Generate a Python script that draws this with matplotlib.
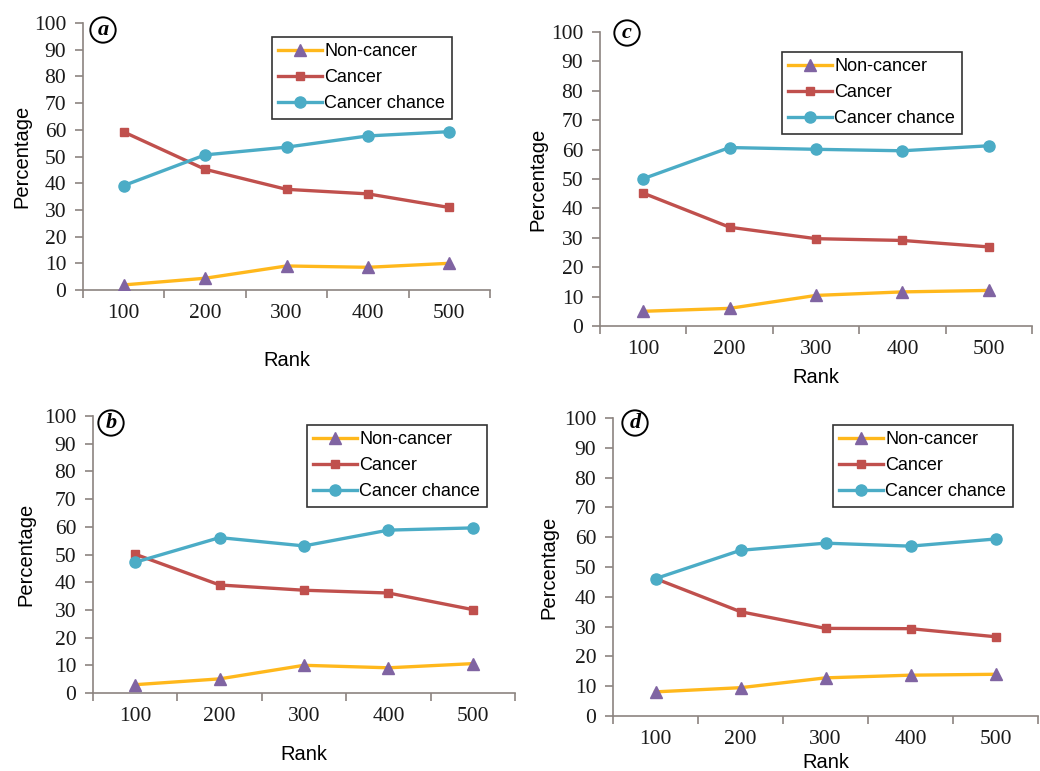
import matplotlib
matplotlib.use("Agg")
import matplotlib.pyplot as plt

W, H = 1040, 771

ranks = ["100", "200", "300", "400", "500"]

# panel values
non_a = [1.9, 4.4, 9.0, 8.5, 10.0]
can_a = [59.2, 45.2, 37.7, 36.0, 30.9]
cha_a = [39.1, 50.6, 53.5, 57.7, 59.3]

non_b = [3.0, 5.1, 10.0, 9.1, 10.6]
can_b = [50.1, 39.0, 37.1, 36.1, 30.1]
cha_b = [47.2, 56.1, 53.1, 58.8, 59.6]

non_c = [5.0, 6.0, 10.4, 11.6, 12.1]
can_c = [45.2, 33.6, 29.7, 29.1, 26.9]
cha_c = [50.1, 60.7, 60.1, 59.6, 61.3]

non_d = [8.1, 9.5, 12.8, 13.7, 14.0]
can_d = [46.1, 35.0, 29.4, 29.3, 26.6]
cha_d = [46.1, 55.6, 58.0, 57.0, 59.4]

c_non = "#FFB81C"
c_non_mk = "#8064A2"
c_can = "#C0504D"
c_cha = "#4BACC6"
c_axis = "#8C8480"

serif = ["Liberation Serif", "DejaVu Serif"]
sans = ["Liberation Sans", "DejaVu Sans"]

fig = plt.figure(figsize=(W / 100, H / 100), dpi=100)


def px_box(left, top, right, bottom):
    return [left / W, 1 - bottom / H, (right - left) / W, (bottom - top) / H]


def panel(box, non, can, cha, letter, letter_xy, leg_xy, rank_off, pct_off):
    ax = fig.add_axes(px_box(*box))
    x = list(range(1, len(ranks) + 1))
    ax.plot(x, non, color=c_non, lw=2.4, marker="^", ms=8, mfc=c_non_mk,
            mec=c_non_mk, label="Non-cancer", zorder=3)
    ax.plot(x, can, color=c_can, lw=2.4, marker="s", ms=6, mfc=c_can,
            mec=c_can, label="Cancer", zorder=3)
    ax.plot(x, cha, color=c_cha, lw=2.4, marker="o", ms=8, mfc=c_cha,
            mec=c_cha, label="Cancer chance", zorder=3)

    ax.set_xlim(0.5, len(ranks) + 0.5)
    ax.set_ylim(0, 100)
    ax.set_yticks(range(0, 101, 10))
    ax.set_xticks([i + 0.5 for i in range(len(ranks) + 1)])
    ax.set_xticklabels([])
    ax.set_xticks(x, minor=True)
    ax.set_xticklabels(ranks, minor=True)
    ax.tick_params(axis="x", which="major", direction="out", length=6,
                   color=c_axis, width=1.2)
    ax.tick_params(axis="x", which="minor", length=0, pad=10)
    ax.tick_params(axis="y", direction="out", length=6, color=c_axis,
                   width=1.2, pad=6)
    for lab in ax.get_xticklabels(minor=True) + ax.get_yticklabels():
        lab.set_family(serif)
        lab.set_fontsize(15.5)
        lab.set_color("#1a1a1a")
    for s in ["top", "right"]:
        ax.spines[s].set_visible(False)
    for s in ["left", "bottom"]:
        ax.spines[s].set_color(c_axis)
        ax.spines[s].set_linewidth(1.2)
    ax.set_facecolor("none")

    h = box[3] - box[1]
    w = box[2] - box[0]
    ax.set_xlabel("Rank", family=sans, fontsize=14.5)
    ax.xaxis.label.set_va("center")
    ax.xaxis.set_label_coords(0.5, -rank_off / h)
    ax.set_ylabel("Percentage", family=sans, fontsize=14.5)
    ax.yaxis.label.set_va("center")
    ax.yaxis.set_label_coords(-pct_off / w, 0.5)

    leg = ax.legend(loc="upper left", bbox_to_anchor=(leg_xy[0] / W, 1 - leg_xy[1] / H),
                    bbox_transform=fig.transFigure, frameon=True, fancybox=False,
                    prop={"family": sans, "size": 13}, handlelength=2.4,
                    handletextpad=0.15, labelspacing=0.5, borderpad=0.35,
                    borderaxespad=0)
    leg.get_frame().set_edgecolor("black")
    leg.get_frame().set_linewidth(1.2)

    fig.text(letter_xy[0] / W, 1 - letter_xy[1] / H, letter, family=serif,
             fontsize=16, fontweight="bold", fontstyle="italic",
             ha="center", va="center",
             bbox=dict(boxstyle="circle,pad=0.12", fc="white", ec="black", lw=1.4))
    return ax


panel((83, 23, 490, 290), non_a, can_a, cha_a, "a", (103, 30), (272, 37), 70, 61)
panel((600, 32, 1032, 326), non_c, can_c, cha_c, "c", (627, 33), (782, 52), 51, 62)
panel((93, 416, 515, 693), non_b, can_b, cha_b, "b", (111, 423), (307, 425), 62, 67)
panel((613, 418, 1038, 716), non_d, can_d, cha_d, "d", (635, 423), (833, 425), 46, 64)

fig.savefig("out.png", dpi=100)
